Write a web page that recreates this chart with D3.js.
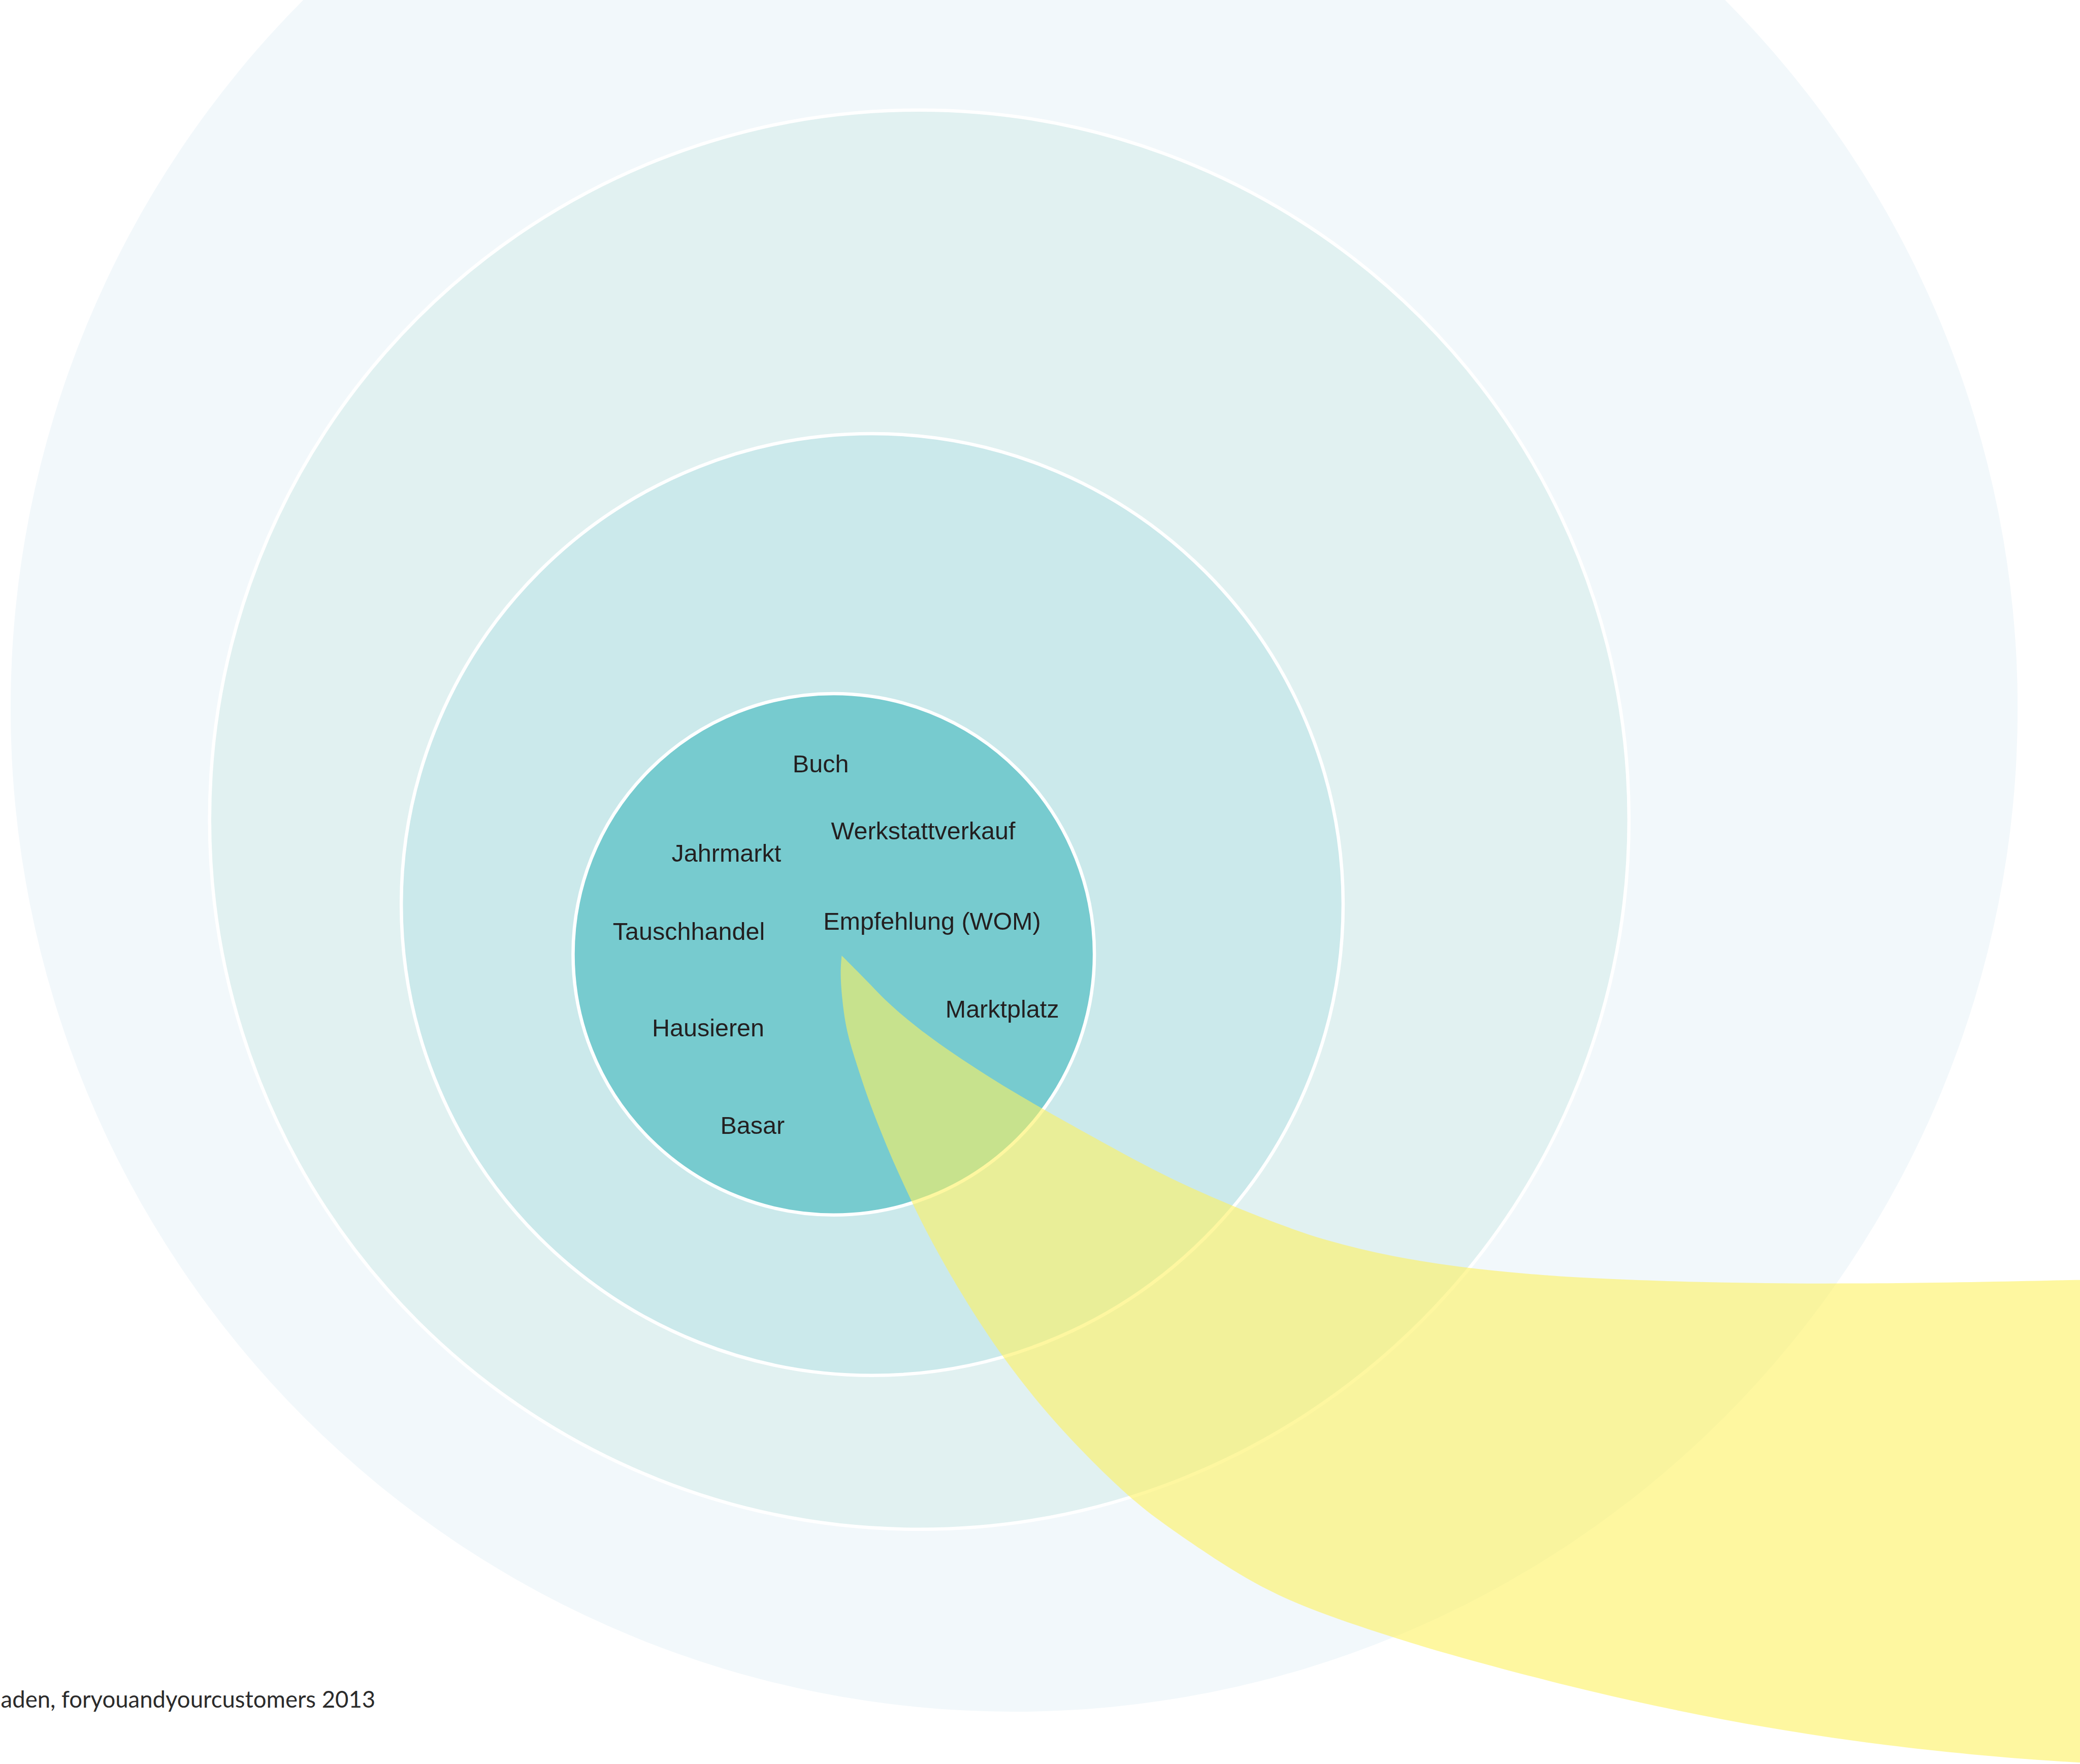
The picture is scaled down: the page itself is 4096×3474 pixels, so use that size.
<!DOCTYPE html>
<html>
<head>
<meta charset="utf-8">
<script src="https://cdn.jsdelivr.net/npm/d3@7"></script>
<style>
  html, body { margin: 0; padding: 0; background: #fff; overflow: hidden; }
  svg { display: block; }
</style>
</head>
<body>
<svg id="chart"></svg>
<script>
// reference frame: 1568 x 1330 units, scaled to the window below
const frameW = 1568;
const frameH = 1330;

// rings, outermost first
const ringNames = ['Umfeld', 'Region', 'Ort', 'Kern'];
const ringCx = [764.5, 693, 657.5, 628.5];
const ringCy = [534, 618, 682, 719.5];
const ringR = [756.5, 535, 355, 196.5];

// channels written inside the core
const labels = ['Buch', 'Werkstattverkauf', 'Jahrmarkt', 'Empfehlung (WOM)',
  'Tauschhandel', 'Marktplatz', 'Hausieren', 'Basar'];
const labelX = [597.5, 626.5, 506.3, 620.6, 462, 712.7, 491.5, 543];
const labelY = [582.2, 632.8, 649.6, 701, 708.7, 767.1, 781.5, 854.8];

// yellow flow shape, tip first
const flowTip = [634.5, 720.5];
// left side, top to bottom
const flowLeft = [[633.4, 733], [634.6, 752], [638, 778], [646, 803], [654, 827.5],
  [663.5, 852], [673.6, 876.6], [685, 901], [696.6, 925.7], [724, 975],
  [756.5, 1025], [796.5, 1075], [846.5, 1125], [873, 1146], [900.5, 1165],
  [938, 1190], [982, 1212]];
// bottom edge, left to right (runs past the right border)
const flowBottom = [[1050, 1234.6], [1100, 1249.7], [1200, 1276.1], [1300, 1297.4],
  [1400, 1313.6], [1500, 1324.6], [1568, 1329.2], [1620, 1331], [1700, 1333]];
// upper edge, left to right (runs past the right border)
const flowTop = [[640, 726], [655, 741], [670, 757], [694, 777], [719.5, 795],
  [744, 811], [768.5, 826], [793, 840], [817.6, 853.7], [861.5, 878], [900, 897],
  [950, 918], [1000, 936], [1050, 947.5], [1100, 955.5], [1150, 960.5],
  [1200, 964], [1300, 967.5], [1400, 968], [1500, 966.5], [1568, 965],
  [1620, 964], [1700, 963]];

const sourceText = 'aden, foryouandyourcustomers 2013';

const ringColors = ['#f2f8fb', '#e1f1f1', '#cbe9eb', '#77cbcf'];
const ringStroke = [null, '#ffffff', '#ffffff', '#ffffff'];

const width = 4096, height = 3474;

const svg = d3.select('#chart')
  .attr('width', width)
  .attr('height', height)
  .attr('viewBox', `0 0 ${width} ${height}`);

const x = d3.scaleLinear().domain([0, frameW]).range([0, width]);
const y = d3.scaleLinear().domain([0, frameH]).range([0, height]);
const r = d3.scaleLinear().domain([0, frameW]).range([0, width]);

svg.append('rect')
  .attr('width', width)
  .attr('height', height)
  .attr('fill', '#ffffff');

const rings = ringNames.map((name, i) => ({
  name, cx: ringCx[i], cy: ringCy[i], r: ringR[i],
  fill: ringColors[i], stroke: ringStroke[i]
}));

svg.append('g')
  .selectAll('circle')
  .data(rings)
  .join('circle')
  .attr('class', (d) => 'ring ' + d.name)
  .attr('cx', (d) => x(d.cx))
  .attr('cy', (d) => y(d.cy))
  .attr('r', (d) => r(d.r))
  .attr('fill', (d) => d.fill)
  .attr('stroke', (d) => d.stroke || 'none')
  .attr('stroke-width', 6.5);

// outline: tip -> down the left -> along the bottom -> back along the top -> tip
const flowOutline = [flowTip, ...flowLeft, ...flowBottom,
  ...flowTop.slice().reverse(), flowTip];

const flowLine = d3.line()
  .x((d) => x(d[0]))
  .y((d) => y(d[1]))
  .curve(d3.curveBasis);

svg.append('path')
  .attr('class', 'flow')
  .attr('d', flowLine(flowOutline) + 'Z')
  .attr('fill', '#fdf261')
  .attr('fill-opacity', 0.6);

svg.append('g')
  .selectAll('text')
  .data(labels.map((t, i) => ({ t, x: labelX[i], y: labelY[i] })))
  .join('text')
  .attr('x', (d) => x(d.x))
  .attr('y', (d) => y(d.y))
  .attr('font-family', '"Liberation Sans", Arial, Helvetica, sans-serif')
  .attr('font-size', 48.5)
  .attr('fill', '#231f20')
  .text((d) => d.t);

svg.append('text')
  .attr('class', 'source')
  .attr('x', x(283))
  .attr('y', y(1287.4))
  .attr('text-anchor', 'end')
  .attr('font-family', 'Lato, "Open Sans", sans-serif')
  .attr('font-weight', 400)
  .attr('font-size', 45.5)
  .attr('fill', '#2b2b2b')
  .text(sourceText);
</script>
</body>
</html>
